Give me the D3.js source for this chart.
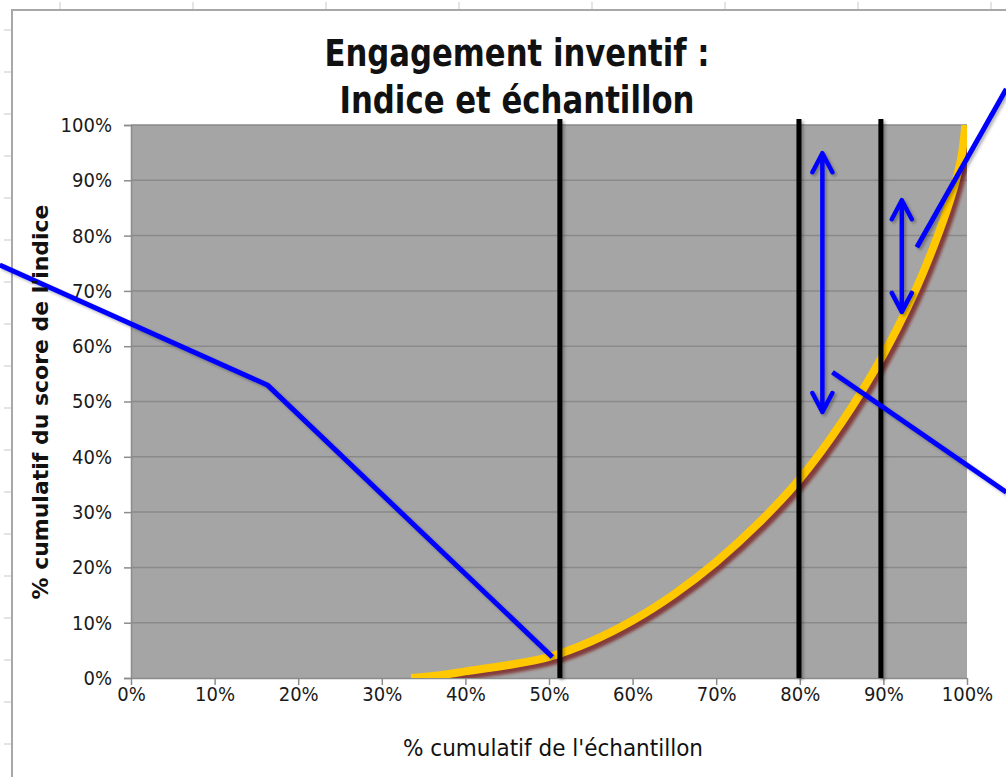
<!DOCTYPE html>
<html>
<head>
<meta charset="utf-8">
<script src="https://cdn.jsdelivr.net/npm/d3@7"></script>
<style>
  body { margin: 0; background: #fff; }
  svg { display: block; }
  .tick text { font-family: "DejaVu Sans Condensed", "DejaVu Sans", sans-serif; font-size: 20px; fill: #1a1a1a; }
</style>
</head>
<body>
<svg id="chart"></svg>
<script>
// ticks
var xTicks = [0, 10, 20, 30, 40, 50, 60, 70, 80, 90, 100];
var yTicks = [0, 10, 20, 30, 40, 50, 60, 70, 80, 90, 100];

// cumulative curve : % of sample vs % of index score
var curveX = [33.5, 37, 40, 45, 50, 55, 60, 65, 70, 75, 80, 85, 90, 93.5, 96, 98, 99.3, 99.8];
var curveY = [0, 0.5, 1.2, 2.3, 3.8, 6.6, 10.4, 15.2, 21, 27.9, 36, 46.2, 58.5, 69, 78, 86.5, 94, 100];

// vertical cut-off lines (x, in %)
var cutoffs = [51.3, 79.9, 89.7];

// blue callout lines, in data units (they run outside the plot)
var calloutLeft = [[-15.7, 74.7], [16.3, 53.0], [50.4, 3.8]];
var calloutTop = [[94.0, 77.9], [104.7, 106.5]];
var calloutMid = [[83.9, 55.3], [104.7, 33.6]];

// double arrows : x, low end, high end
var arrowX = [82.7, 92.2];
var arrowLow = [48.1, 66.2];
var arrowHigh = [94.9, 86.4];

var W = 1006, H = 777;
var plot = { left: 131, right: 967, top: 125, bottom: 678 };

var svg = d3.select("#chart").attr("width", W).attr("height", H);

var defs = svg.append("defs");
defs.append("clipPath").attr("id", "plotclip")
  .append("rect")
  .attr("x", plot.left).attr("y", plot.top)
  .attr("width", plot.right - plot.left).attr("height", plot.bottom - plot.top);

var blur = defs.append("filter").attr("id", "blur")
  .attr("filterUnits", "userSpaceOnUse")
  .attr("x", 0).attr("y", 0).attr("width", W).attr("height", H);
blur.append("feGaussianBlur").attr("stdDeviation", 1.8);

// user-space region so zero-width vertical lines still get drawn
var shadow = defs.append("filter").attr("id", "shadow")
  .attr("filterUnits", "userSpaceOnUse")
  .attr("x", 0).attr("y", 0).attr("width", W).attr("height", H);
shadow.append("feDropShadow")
  .attr("dx", 2).attr("dy", 2).attr("stdDeviation", 1.5)
  .attr("flood-color", "#000").attr("flood-opacity", 0.3);

// spreadsheet frame behind the chart
var frame = svg.append("g").attr("stroke", "#a8a8a8").attr("fill", "none");
frame.append("path").attr("d", "M12,777V10H1006").attr("stroke-width", 2);
frame.selectAll(".colTick").data(d3.range(60, W, 133)).enter().append("line")
  .attr("x1", d => d).attr("x2", d => d).attr("y1", 2).attr("y2", 9)
  .attr("stroke", "#c8c8c8");
frame.selectAll(".rowTick").data(d3.range(30, H, 42)).enter().append("line")
  .attr("y1", d => d).attr("y2", d => d).attr("x1", 4).attr("x2", 11)
  .attr("stroke", "#c8c8c8");

var x = d3.scaleLinear().domain([0, 100]).range([plot.left, plot.right]);
var y = d3.scaleLinear().domain([0, 100]).range([plot.bottom, plot.top]);

// plot background
svg.append("rect")
  .attr("x", plot.left).attr("y", plot.top)
  .attr("width", plot.right - plot.left).attr("height", plot.bottom - plot.top)
  .attr("fill", "#a5a5a5");

// horizontal gridlines
svg.append("g")
  .selectAll("line")
  .data(yTicks.slice(1))
  .enter()
  .append("line")
    .attr("x1", plot.left).attr("x2", plot.right)
    .attr("y1", d => y(d)).attr("y2", d => y(d))
    .attr("stroke", "#8a8a8a").attr("stroke-width", 1.5);

// axes
var pct = d => d + "%";
var yAxis = svg.append("g")
  .attr("transform", "translate(" + plot.left + ",0)")
  .call(d3.axisLeft(y).tickValues(yTicks).tickFormat(pct).tickSize(7).tickPadding(12));
var xAxis = svg.append("g")
  .attr("transform", "translate(0," + plot.bottom + ")")
  .call(d3.axisBottom(x).tickValues(xTicks).tickFormat(pct).tickSize(7).tickPadding(2));
[xAxis, yAxis].forEach(function(ax) {
  ax.select(".domain").attr("stroke", "#8c8c8c").attr("stroke-width", 1.5);
  ax.selectAll(".tick line").attr("stroke", "#8c8c8c").attr("stroke-width", 1.5);
});
xAxis.select(".domain").attr("d", "M" + plot.left + ",0.5H" + plot.right);

// curve with its red drop shadow
var line = d3.line()
  .x(d => x(d[0]))
  .y(d => y(d[1]))
  .curve(d3.curveCatmullRom.alpha(0.5));
var curveData = d3.zip(curveX, curveY);
var curveG = svg.append("g").attr("clip-path", "url(#plotclip)");
curveG.append("path")
  .datum(curveData)
  .attr("d", line)
  .attr("transform", "translate(4,4)")
  .attr("fill", "none")
  .attr("stroke", "#7a2222")
  .attr("stroke-opacity", 0.8)
  .attr("stroke-width", 8)
  .attr("filter", "url(#blur)");
curveG.append("path")
  .datum(curveData)
  .attr("d", line)
  .attr("fill", "none")
  .attr("stroke", "#ffc800")
  .attr("stroke-width", 8);

// black cut-off lines
svg.append("g")
  .selectAll("line")
  .data(cutoffs)
  .enter()
  .append("line")
    .attr("x1", d => x(d)).attr("x2", d => x(d))
    .attr("y1", y(0)).attr("y2", y(101.1))
    .attr("stroke", "#000").attr("stroke-width", 5)
    .attr("filter", "url(#shadow)");

// blue callouts
var straight = d3.line().x(d => x(d[0])).y(d => y(d[1]));
svg.append("g")
  .selectAll("path")
  .data([calloutLeft, calloutTop, calloutMid])
  .enter()
  .append("path")
    .attr("d", straight)
    .attr("fill", "none")
    .attr("stroke", "#0000ff").attr("stroke-width", 5)
    .attr("stroke-linejoin", "round")
    .attr("filter", "url(#shadow)");

// double-headed arrows
var arrows = svg.append("g")
  .attr("fill", "none").attr("stroke", "#0000ff")
  .attr("stroke-width", 4.5).attr("stroke-linecap", "round").attr("stroke-linejoin", "round")
  .attr("filter", "url(#shadow)");
arrowX.forEach(function(ax, i) {
  var px = x(ax), top = y(arrowHigh[i]), bot = y(arrowLow[i]);
  arrows.append("path")
    .attr("d", "M" + px + "," + top + "V" + bot +
      "M" + (px - 10) + "," + (top + 19) + "L" + px + "," + top + "L" + (px + 10) + "," + (top + 19) +
      "M" + (px - 10) + "," + (bot - 19) + "L" + px + "," + bot + "L" + (px + 10) + "," + (bot - 19));
});

// titles
var title = svg.append("g")
  .attr("font-family", "'DejaVu Sans Condensed', 'DejaVu Sans', sans-serif")
  .attr("font-size", 37)
  .attr("font-weight", "bold")
  .attr("fill", "#111")
  .attr("text-anchor", "middle");
title.append("text").attr("x", 517).attr("y", 66)
  .attr("textLength", 385).attr("lengthAdjust", "spacingAndGlyphs")
  .text("Engagement inventif :");
title.append("text").attr("x", 517).attr("y", 113)
  .attr("textLength", 355).attr("lengthAdjust", "spacingAndGlyphs")
  .text("Indice et échantillon");

svg.append("text")
  .attr("x", 553).attr("y", 756)
  .attr("text-anchor", "middle")
  .attr("font-family", "'DejaVu Sans Condensed', 'DejaVu Sans', sans-serif")
  .attr("font-size", 23)
  .attr("fill", "#111")
  .attr("textLength", 300).attr("lengthAdjust", "spacingAndGlyphs")
  .text("% cumulatif de l'échantillon");

svg.append("text")
  .attr("transform", "translate(48,402) rotate(-90)")
  .attr("text-anchor", "middle")
  .attr("font-family", "'DejaVu Sans', sans-serif")
  .attr("font-weight", "bold")
  .attr("font-size", 21)
  .attr("fill", "#111")
  .attr("textLength", 395).attr("lengthAdjust", "spacingAndGlyphs")
  .text("% cumulatif du score de l'indice");
</script>
</body>
</html>
